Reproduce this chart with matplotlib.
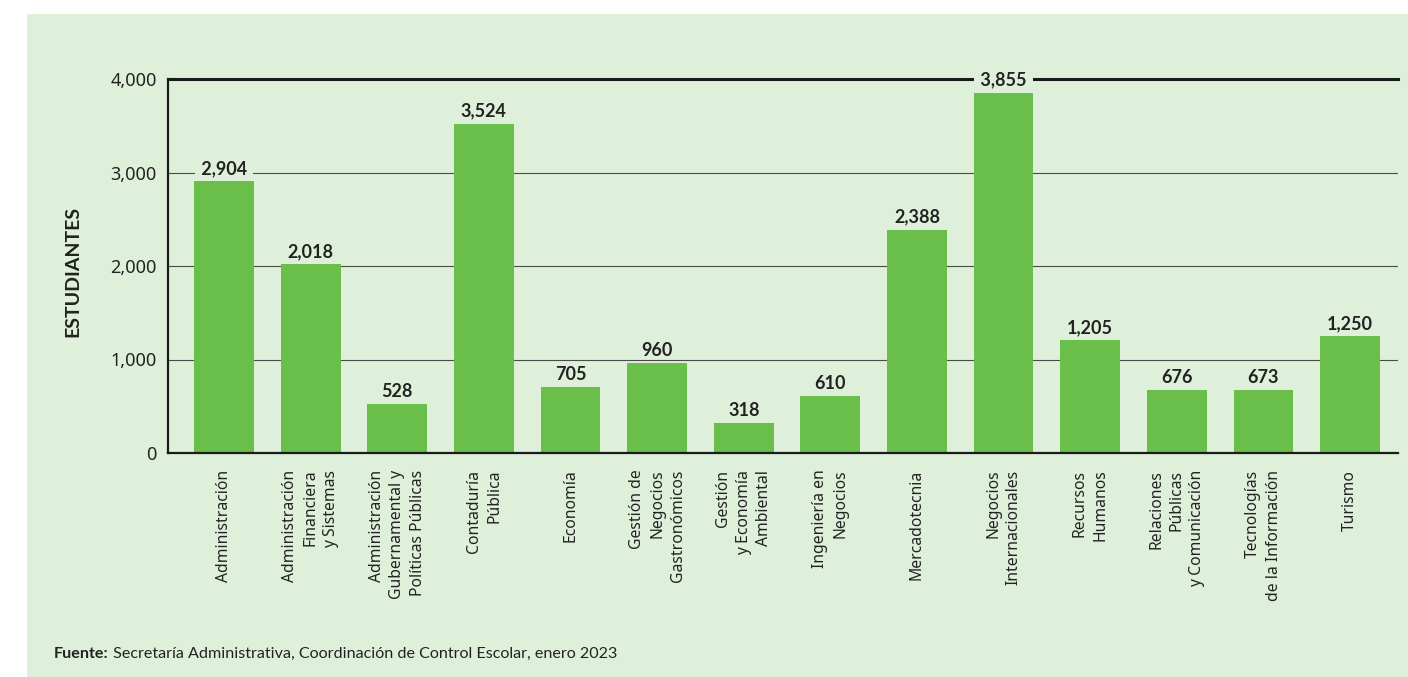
import matplotlib.pyplot as plt
from matplotlib.patches import Rectangle
from matplotlib.ticker import FuncFormatter

# Students per programme (Jan 2023)
programas = [
    "Administración",
    "Administración\nFinanciera\ny Sistemas",
    "Administración\nGubernamental y\nPolíticas Públicas",
    "Contaduría\nPública",
    "Economía",
    "Gestión de\nNegocios\nGastronómicos",
    "Gestión\ny Economía\nAmbiental",
    "Ingeniería en\nNegocios",
    "Mercadotecnia",
    "Negocios\nInternacionales",
    "Recursos\nHumanos",
    "Relaciones\nPúblicas\ny Comunicación",
    "Tecnologías\nde la Información",
    "Turismo",
]
estudiantes = [2904, 2018, 528, 3524, 705, 960, 318, 610, 2388, 3855, 1205, 676, 673, 1250]
y_ticks = [0, 1000, 2000, 3000, 4000]

BG = "#dff0da"
BAR = "#6abf4b"
INK = "#222222"
FONT = ["Noto Sans", "DejaVu Sans"]
BOLD = ["Lato", "DejaVu Sans"]

plt.rcParams["font.family"] = FONT

W, H = 1408, 677
fig = plt.figure(figsize=(W / 100, H / 100), dpi=100, facecolor="white")
fig.patches.append(
    Rectangle((27 / W, 0), 1 - 27 / W, 1 - 14 / H, transform=fig.transFigure,
              facecolor=BG, edgecolor="none", zorder=-10)
)

ax = fig.add_axes([168 / W, 1 - 453 / H, (1398 - 168) / W, (453 - 79) / H])
ax.set_facecolor("none")

x = list(range(len(programas)))
ax.bar(x, estudiantes, width=0.69, color=BAR, zorder=2)

ax.set_xlim(-0.647, len(programas) - 1 + 0.554)
ax.set_ylim(0, 4000)

for v in y_ticks[1:-1]:
    ax.axhline(v, color="#4a4a4a", lw=0.8, zorder=0.5)
ax.axhline(4000, color="#1a1a1a", lw=2.2, zorder=1, clip_on=False)

# value labels; the ones sitting on a grid line get a background box to break the line
for xi, v in zip(x, estudiantes):
    on_line = any(abs(v + 134 - g) < 70 for g in y_ticks[1:])
    box = dict(boxstyle="square,pad=0.12", facecolor=BG, edgecolor="none") if on_line else None
    ax.annotate(
        f" {v:,} " if on_line else f"{v:,}", xy=(xi, v), xytext=(0, 9),
        textcoords="offset points", ha="center", va="center",
        fontsize=13, fontweight="bold", color=INK, zorder=1.5, bbox=box,
        family=BOLD, annotation_clip=False,
    )

for side in ["top", "right"]:
    ax.spines[side].set_visible(False)
for side in ["left", "bottom"]:
    ax.spines[side].set_color("#1a1a1a")
    ax.spines[side].set_linewidth(1.6)
    ax.spines[side].set_zorder(3)

ax.set_yticks(y_ticks)
ax.yaxis.set_major_formatter(FuncFormatter(lambda v, _: f"{int(v):,}"))
ax.tick_params(axis="y", length=0, pad=8, labelsize=13, labelcolor=INK)

ax.set_xticks(x)
ax.set_xticklabels(programas, rotation=90, ha="center", va="top",
                   multialignment="right", linespacing=1.38)
ax.tick_params(axis="x", length=0, pad=12, labelsize=11.3, labelcolor=INK)

fig.text(73 / W, 1 - 271 / H, "ESTUDIANTES", rotation=90, ha="center",
         va="center", fontsize=14, fontweight="bold", color=INK, family=BOLD)

foot = ["Lato", "DejaVu Sans"]
t1 = fig.text(54 / W, 1 - 661 / H, "Fuente:", ha="left", va="bottom",
              fontsize=11.6, fontweight="bold", color=INK, family=foot)
ax.annotate(" Secretaría Administrativa, Coordinación de Control Escolar, enero 2023",
            xy=(1, 0), xycoords=t1, ha="left", va="bottom",
            fontsize=11.6, color=INK, family=foot, annotation_clip=False)

fig.savefig("out.png", dpi=100, facecolor="white")
